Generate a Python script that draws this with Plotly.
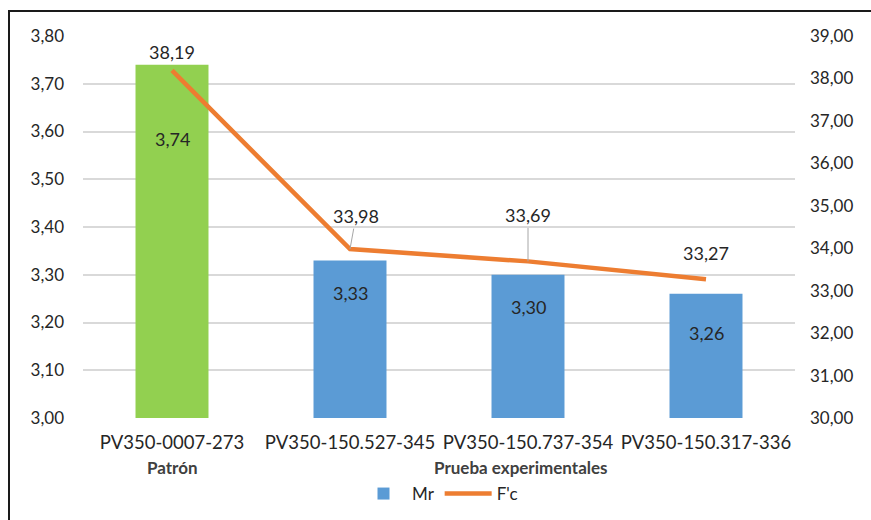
import plotly.graph_objects as go

# Chart data
categories = ["PV350-0007-273", "PV350-150.527-345", "PV350-150.737-354", "PV350-150.317-336"]
group_names = ["Patrón", "Prueba experimentales"]
mr_values = [3.74, 3.33, 3.30, 3.26]
fc_values = [38.19, 33.98, 33.69, 33.27]
left_ticks = [3.00, 3.10, 3.20, 3.30, 3.40, 3.50, 3.60, 3.70, 3.80]
right_ticks = [30, 31, 32, 33, 34, 35, 36, 37, 38, 39]

# Styling
FONT = "Lato"
TEXT = "#262626"
GRID = "#d9d9d9"
BLUE = "#5B9BD5"
GREEN = "#92D050"
ORANGE = "#ED7D31"

# label offsets (pixels) for the value labels
bar_label_shift = [-74, -33, -32, -39]
line_label_off = [(0, -18, False), (6, -33, True), (0, -46, True), (0, -26, False)]


def fmt(v):
    return f"{v:.2f}".replace(".", ",")


fig = go.Figure()

# reference bar (Patrón) in green, experimental bars in blue
fig.add_trace(go.Bar(
    x=categories[:1], y=mr_values[:1], marker=dict(color=GREEN, line=dict(width=0)),
    width=0.41, showlegend=False, hoverinfo="skip",
))
fig.add_trace(go.Bar(
    x=categories[1:], y=mr_values[1:], marker=dict(color=BLUE, line=dict(width=0)),
    width=0.41, name="Mr",
))
fig.add_trace(go.Scatter(
    x=categories, y=fc_values, mode="lines", name="F'c", yaxis="y2",
    line=dict(color=ORANGE, width=4.5),
))

annotations = []
for c, v, s in zip(categories, mr_values, bar_label_shift):
    annotations.append(dict(
        x=c, y=v, xref="x", yref="y", text=fmt(v), showarrow=False, yshift=s,
        font=dict(family=FONT, size=18, color=TEXT),
    ))
for c, v, (ax, ay, leader) in zip(categories, fc_values, line_label_off):
    if leader:
        annotations.append(dict(
            x=c, y=v, xref="x", yref="y2", text=fmt(v), showarrow=True,
            arrowhead=0, arrowwidth=1, arrowcolor="#a6a6a6", ax=ax, ay=ay, standoff=0,
            font=dict(family=FONT, size=18, color=TEXT),
        ))
    else:
        annotations.append(dict(
            x=c, y=v, xref="x", yref="y2", text=fmt(v), showarrow=False,
            xshift=ax, yshift=-ay,
            font=dict(family=FONT, size=18, color=TEXT),
        ))

# group labels under the category labels
annotations.append(dict(
    x=categories[0], y=0, xref="x", yref="paper", yanchor="middle", yshift=-49,
    text=f"<b>{group_names[0]}</b>",
    showarrow=False, font=dict(family=FONT, size=17, color="#404040"),
))
annotations.append(dict(
    x=categories[2], y=0, xref="x", yref="paper", yanchor="middle", xshift=-7, yshift=-49,
    text=f"<b>{group_names[1]}</b>",
    showarrow=False, font=dict(family=FONT, size=17, color="#404040"),
))

W, H = 871, 520
L, R, T, B = 83, 76, 36, 102
pw, ph = W - L - R, H - T - B

fig.update_layout(
    width=W, height=H,
    margin=dict(l=L, r=R, t=T, b=B, autoexpand=False),
    paper_bgcolor="white", plot_bgcolor="white",
    barmode="overlay",
    separators=",.",
    font=dict(family=FONT, size=17, color=TEXT),
    xaxis=dict(
        type="category", categoryorder="array", categoryarray=categories,
        showgrid=False, showline=False, ticks="", tickfont=dict(size=18.5),
        range=[-0.5, 3.5], automargin=False, ticklabelstandoff=11,
    ),
    yaxis=dict(
        range=[3.0, 3.8], tickvals=left_ticks, tickformat=".2f",
        showgrid=True, gridcolor=GRID, gridwidth=1.5, zeroline=False, showline=False,
        ticks="", ticklabelstandoff=18, automargin=False,
    ),
    yaxis2=dict(
        range=[30, 39], tickvals=right_ticks, tickformat=".2f",
        overlaying="y", side="right", showgrid=False, zeroline=False, showline=False,
        ticks="", ticklabelstandoff=14, automargin=False,
    ),
    legend=dict(
        orientation="h", x=0.5, xanchor="center", y=-(494 - (T + ph)) / ph, yanchor="middle",
        font=dict(size=17), itemwidth=47, traceorder="normal",
    ),
    annotations=annotations,
    shapes=[dict(
        type="rect", xref="paper", yref="paper", layer="above",
        x0=(9 - L) / pw, x1=1 + (W + 40 - L - pw) / pw,
        y0=-(H + 40 - T - ph) / ph, y1=1 + (T - 11) / ph,
        line=dict(color="#1a1a1a", width=2),
    )],
)

fig.write_html("out.html")
